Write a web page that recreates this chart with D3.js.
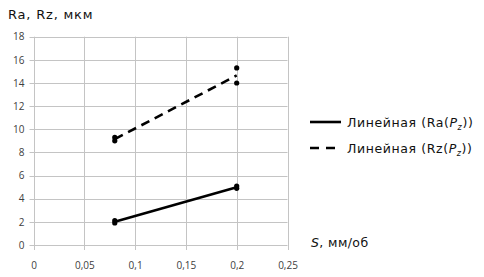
<!DOCTYPE html>
<html><head><meta charset="utf-8">
<script src="https://cdn.jsdelivr.net/npm/d3@7"></script>
<style>body{margin:0;background:#fff}svg{display:block}</style>
</head><body>
<svg id="c" width="484" height="277"></svg>
<script>
const sValues = [0.08, 0.08, 0.2, 0.2];
const raValues = [1.9, 2.1, 4.9, 5.1];
const rzValues = [9.0, 9.3, 14.0, 15.3];
const xTicks = [0, 0.05, 0.1, 0.15, 0.2, 0.25];
const yTicks = [0, 2, 4, 6, 8, 10, 12, 14, 16, 18];
const legendLabels = ["Ra", "Rz"];

const svg = d3.select("#c");
const x = d3.scaleLinear().domain([0, 0.25]).range([33.5, 287.5]);
const y = d3.scaleLinear().domain([0, 18]).range([245, 36.7]);
const fmt = d => String(d).replace(".", ",");
const grid = "#c4c4c4";

// grid
const g = svg.append("g");
g.selectAll(".h").data(yTicks).join("line")
  .attr("x1", x(0) - 4).attr("x2", x(0.25))
  .attr("y1", d => Math.round(y(d)) + 0.5).attr("y2", d => Math.round(y(d)) + 0.5)
  .attr("stroke", grid).attr("stroke-width", 1);
g.selectAll(".v").data(xTicks).join("line")
  .attr("y1", y(18)).attr("y2", y(0) + 5)
  .attr("x1", d => Math.round(x(d)) + 0.5).attr("x2", d => Math.round(x(d)) + 0.5)
  .attr("stroke", grid).attr("stroke-width", 1);

// axes labels via d3 axes (domain hidden)
const ya = svg.append("g").attr("transform", `translate(${x(0)},0)`)
  .call(d3.axisLeft(y).tickValues(yTicks).tickSize(0).tickPadding(9).tickFormat(fmt));
const xa = svg.append("g").attr("transform", `translate(0,${y(0)})`)
  .call(d3.axisBottom(x).tickValues(xTicks).tickSize(0).tickPadding(17).tickFormat(fmt));
[ya, xa].forEach(a => {
  a.select(".domain").remove();
  a.selectAll("text").attr("fill", "#404040")
    .style("font-family", "'Open Sans', 'Liberation Sans', sans-serif").style("font-size", "10px");
});

// regression
function lin(xs, ys) {
  const n = xs.length, mx = d3.mean(xs), my = d3.mean(ys);
  let num = 0, den = 0;
  for (let i = 0; i < n; i++) { num += (xs[i]-mx)*(ys[i]-my); den += (xs[i]-mx)**2; }
  const b = num/den, a = my - b*mx;
  const x0 = d3.min(xs), x1 = d3.max(xs);
  return [[x0, a + b*x0], [x1, a + b*x1]];
}
const line = d3.line().x(d => x(d[0])).y(d => y(d[1]));
const series = [
  {vals: raValues, dash: null},
  {vals: rzValues, dash: "9,6"}
];
series.forEach(s => {
  svg.append("path").attr("d", line(lin(sValues, s.vals)))
    .attr("fill", "none").attr("stroke", "#000").attr("stroke-width", 2.6)
    .attr("stroke-dasharray", s.dash);
  svg.selectAll(null).data(sValues.map((v, i) => [v, s.vals[i]])).join("circle")
    .attr("cx", d => x(d[0])).attr("cy", d => y(d[1])).attr("r", 2.6).attr("fill", "#000");
});

// titles
const font = "'DejaVu Sans', Verdana, sans-serif";
svg.append("text").attr("x", 8).attr("y", 19).text("Ra, Rz, мкм")
  .style("font-family", font).style("font-size", "13px").style("letter-spacing", "0.8px").attr("fill", "#111");
const st = svg.append("text").attr("x", 311).attr("y", 247)
  .style("font-family", font).style("font-size", "12.5px").style("letter-spacing", "0.4px").attr("fill", "#111");
st.append("tspan").attr("font-style", "italic").text("S");
st.append("tspan").text(", мм/об");

// legend
legendLabels.forEach((lab, i) => {
  const ly = 122 + i * 26;
  svg.append("line").attr("x1", 310).attr("x2", 341).attr("y1", ly).attr("y2", ly)
    .attr("stroke", "#000").attr("stroke-width", 2.6)
    .attr("stroke-dasharray", i === 1 ? "9,7" : null);
  const t = svg.append("text").attr("x", 347).attr("y", ly + 4.5)
    .style("font-family", font).style("font-size", "12.5px").style("letter-spacing", "0.6px").attr("fill", "#111");
  t.append("tspan").text("Линейная (" + lab + "(");
  t.append("tspan").attr("font-style", "italic").text("P");
  t.append("tspan").attr("font-style", "italic").attr("font-size", "8px").attr("dy", 3).text("z");
  t.append("tspan").attr("dy", -3).text("))");
});
</script>
</body></html>
